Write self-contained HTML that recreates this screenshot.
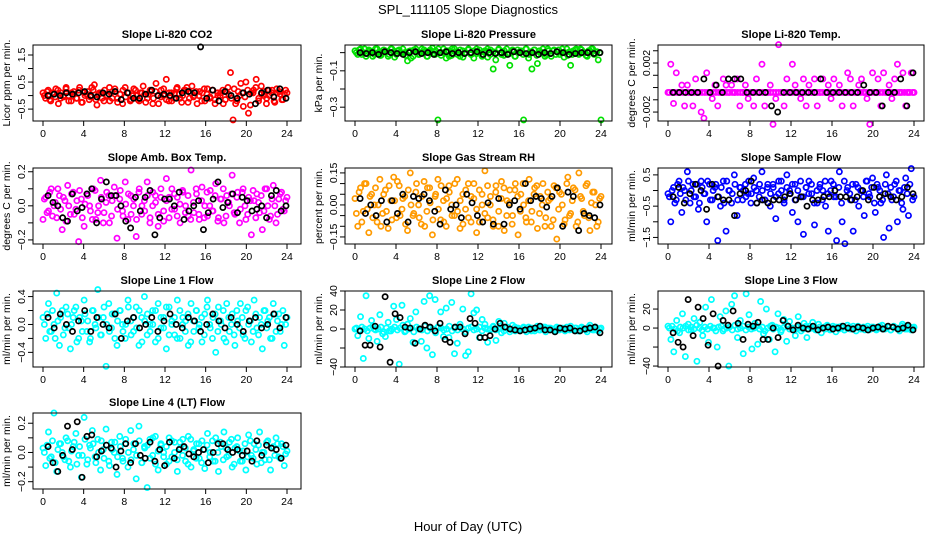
<!DOCTYPE html>
<html><head><meta charset="utf-8"><style>
html,body{margin:0;padding:0;background:#fff}
svg{display:block}
text{font-family:"Liberation Sans",Arial,sans-serif;fill:#000}
</style></head><body>
<svg id="chart" width="936" height="540" viewBox="0 0 936 540" xmlns="http://www.w3.org/2000/svg">
<text x="468" y="14" text-anchor="middle" font-size="13">SPL_111105  Slope Diagnostics</text>
<text x="468" y="531" text-anchor="middle" font-size="13">Hour of Day (UTC)</text>
</svg>
<script>
const xTicks = [0,4,8,12,16,20,24];
// Li-820 CO2
const co2Main = [0.1,-0.1,0.2,-0.2,0.05,0.25,-0.3,0.1,-0.05,0.3,0.0,-0.2,0.15,-0.1,0.2,-0.25,0.1,0.05,-0.15,0.3,0.4,-0.35,0.1,-0.1,0.2,0.0,-0.2,0.15,0.25,-0.1,0.05,-0.3,0.3,0.1,-0.2,0.0,0.2,-0.15,0.1,0.35,-0.25,0.05,0.15,-0.1,0.45,-0.3,0.2,0.0,0.6,-0.2,0.1,-0.1,0.25,0.05,-0.25,0.2,0.3,-0.1,0.35,0.0,-0.3,0.15,0.1,-0.2,0.25,-0.05,0.2,-0.3,0.1,0.0,0.2,-0.15,0.3,0.85,-0.9,-0.3,0.15,0.45,-0.4,0.5,-0.65,0.1,0.2,0.6,-0.1,0.35,0.0,-0.3,0.2,0.1,-0.2,0.25,0.15,-0.15,0.05,0.1];
const co2Extra = [0.0,0.15,-0.15,0.1,-0.05,0.2,-0.1,0.0,0.25,-0.2,0.1,0.05,-0.1,0.3,-0.25,0.0,0.15,-0.05,0.2,-0.15,0.05,0.1,-0.2,0.0,0.3,-0.1,0.15,-0.25,0.05,0.2,-0.05,0.1,-0.15,0.25,0.0,-0.2,0.1,0.05,-0.1,0.2,-0.3,0.15,0.0,-0.05,0.25,-0.15,0.1,-0.2,0.05,0.3,-0.1,0.0,0.2,-0.25,0.1,-0.05,0.15,0.0,-0.2,0.25,0.05,-0.1,0.2,-0.15,0.0,0.1,-0.3,0.15,0.05,-0.1,0.25,-0.2,0.0,0.1,-0.05,0.2,-0.35,0.1,0.3,-0.2,0.05,0.15,-0.1,0.0,0.2,-0.25,0.1,0.05,-0.15,0.2];
const co2Ref = [0.0,0.05,0.0,0.1,0.05,0.1,0.15,0.0,-0.05,0.1,0.05,0.15,-0.15,0.1,-0.1,-0.1,0.05,0.2,0.0,0.05,0.0,-0.1,0.1,0.15,0.1,1.8,-0.1,0.2,-0.2,0.15,0.0,-0.1,0.1,0.05,-0.3,0.1,0.2,-0.05,0.25,-0.1];
// Li-820 Pressure
const presMain = [0.01,-0.01,0.02,0.0,-0.02,0.015,0.005,-0.01,0.02,-0.015,0.0,0.01,-0.02,0.02,0.005,-0.01,0.015,-0.005,0.0,-0.045,0.01,-0.02,0.02,-0.01,0.0,0.015,-0.02,0.01,0.025,-0.01,-0.37,0.0,0.02,-0.03,0.01,-0.015,0.02,0.005,-0.02,0.01,0.0,0.015,-0.01,-0.03,0.02,0.0,-0.015,0.01,-0.025,0.015,-0.09,0.0,0.02,-0.01,0.01,-0.005,-0.07,0.015,-0.02,0.0,0.01,-0.37,0.02,-0.01,-0.09,0.015,-0.06,0.0,0.02,-0.01,0.01,-0.02,0.015,0.005,-0.01,0.02,0.0,-0.015,-0.07,0.01,0.02,-0.01,0.015,0.0,-0.02,0.01,0.02,-0.005,-0.04,-0.37];
const presExtra = [0.0,0.015,-0.01,0.02,-0.005,0.01,-0.02,0.02,0.0,-0.015,0.015,0.005,-0.01,0.02,-0.025,0.01,0.0,0.02,-0.015,0.005,-0.03,0.015,0.0,-0.01,0.02,0.005,-0.02,0.015,-0.005,0.01,0.02,-0.015,0.0,0.01,-0.02,0.02,0.005,-0.01,0.015,-0.025,0.0,0.02,-0.01,0.01,-0.005,0.015,-0.02,0.0,0.02,-0.01,0.005,-0.04,0.015,0.0,-0.015,0.02,-0.005,0.01,-0.02,0.015,0.0,-0.01,0.02,-0.03,0.005,0.015,-0.015,0.01,0.0,-0.02,0.02,-0.005,0.01,-0.01,0.015,0.0,-0.025,0.02,0.005,-0.01,0.015,-0.005,0.02,0.0,-0.015,0.01,0.02,-0.01,0.005,0.0];
const presRef = [0.0,-0.005,0.0,-0.01,0.005,0.0,-0.005,-0.01,0.0,0.005,-0.005,0.0,-0.01,0.0,0.005,-0.005,0.0,-0.005,0.0,0.005,-0.01,0.0,-0.005,0.0,-0.01,0.005,0.0,-0.005,0.0,-0.01,0.0,-0.005,0.005,0.0,-0.01,-0.005,0.0,0.0,-0.005,0.0];
// Li-820 Temp
const tempMain = [-0.0004,0.0019,-0.0013,0.0012,-0.0004,0.0002,-0.0015,0.0002,-0.0004,-0.0015,0.0007,-0.0004,-0.0020,-0.0025,0.0012,-0.0004,-0.0009,0.0002,-0.0015,-0.0004,0.0007,0.0002,-0.0004,0.0002,-0.0004,0.0007,-0.0015,-0.0004,0.0002,-0.0009,-0.0004,-0.0015,0.0007,-0.0004,0.0019,-0.0015,-0.0004,0.0002,-0.0030,-0.0009,0.0035,-0.0004,-0.0015,0.0007,-0.0004,0.0019,0.0002,-0.0004,-0.0009,0.0007,-0.0015,0.0002,-0.0004,0.0007,-0.0015,-0.0004,0.0007,-0.0004,0.0002,-0.0009,0.0007,-0.0004,0.0002,-0.0015,-0.0004,0.0012,0.0007,-0.0015,-0.0004,0.0002,0.0007,-0.0004,-0.0009,-0.0030,0.0012,-0.0004,0.0007,-0.0015,0.0012,-0.0004,0.0002,-0.0009,0.0007,0.0019,-0.0004,0.0012,-0.0015,-0.0004,0.0012,-0.0004];
const tempExtra = [-0.0004,-0.0004,-0.0004,-0.0004,-0.0004,-0.0004,-0.0004,-0.0004,-0.0004,-0.0004,-0.0004,-0.0004,-0.0004,-0.0004,-0.0004,-0.0004,-0.0004,-0.0004,-0.0004,-0.0004,-0.0004,-0.0004,-0.0004,-0.0004,-0.0004,-0.0004,-0.0004,-0.0004,-0.0004,-0.0004,-0.0004,-0.0004,-0.0004,-0.0004,-0.0004,-0.0004,-0.0004,-0.0004,-0.0004,-0.0004,-0.0004,-0.0004,-0.0004,-0.0004,-0.0004,-0.0004,-0.0004,-0.0004,-0.0004,-0.0004,-0.0004,-0.0004,-0.0004,-0.0004,-0.0004,-0.0004,-0.0004,-0.0004,-0.0004,-0.0004,-0.0004,-0.0004,-0.0004,-0.0004,-0.0004,-0.0004,-0.0004,-0.0004,-0.0004,-0.0004,-0.0004,-0.0004,-0.0004,-0.0004,-0.0004,-0.0004,-0.0004,-0.0004,-0.0004,-0.0004,-0.0004,-0.0004,-0.0004,-0.0004,-0.0004,-0.0004,-0.0004,-0.0004,-0.0004,-0.0004];
const tempRef = [-0.0004,-0.0004,-0.0004,-0.0004,-0.0004,0.0007,-0.0004,0.0002,-0.0004,0.0007,0.0007,0.0007,-0.0004,-0.0004,-0.0004,-0.0004,-0.0015,-0.0020,-0.0004,-0.0004,-0.0004,-0.0004,-0.0004,-0.0004,0.0007,-0.0004,-0.0004,-0.0004,-0.0004,-0.0004,-0.0004,0.0002,-0.0004,-0.0004,-0.0015,-0.0004,-0.0004,0.0007,-0.0015,0.0012];
// Amb Box Temp
const ambMain = [-0.08,0.05,-0.03,0.1,0.0,-0.07,0.06,-0.14,0.03,0.12,-0.05,0.08,-0.02,-0.21,0.04,-0.12,0.07,0.0,-0.08,0.09,-0.04,0.15,-0.1,0.02,0.06,-0.06,0.11,-0.19,0.04,-0.03,0.14,-0.08,0.06,0.0,-0.18,0.08,-0.05,0.03,0.14,-0.1,0.0,0.06,-0.12,0.05,-0.03,0.16,-0.07,0.1,-0.02,0.05,-0.1,0.08,0.0,-0.06,0.21,-0.04,0.07,-0.08,0.11,0.0,-0.06,0.09,-0.03,0.13,-0.07,0.04,-0.1,0.06,0.0,0.18,-0.05,0.08,-0.02,0.1,-0.08,0.05,-0.17,0.03,0.07,-0.04,-0.14,0.1,0.0,-0.06,0.12,-0.1,0.04,0.08,-0.03,0.05];
const ambExtra = [0.04,-0.04,0.08,-0.06,0.02,0.1,-0.02,0.05,-0.09,0.0,0.07,-0.05,0.03,0.09,-0.07,0.01,0.06,-0.03,0.1,-0.08,0.0,0.05,-0.04,0.08,-0.1,0.03,0.06,-0.02,0.09,-0.06,0.01,0.07,-0.05,0.04,-0.08,0.1,0.0,-0.03,0.06,-0.07,0.08,0.02,-0.05,0.1,-0.09,0.03,0.05,-0.02,0.07,-0.06,0.01,0.09,-0.04,0.06,-0.08,0.02,0.1,-0.05,0.03,-0.07,0.08,0.0,-0.03,0.06,-0.09,0.04,0.1,-0.06,0.02,0.07,-0.04,0.05,-0.1,0.08,0.0,-0.05,0.03,0.09,-0.07,0.02,0.06,-0.03,0.1,-0.08,0.04,0.0,-0.05,0.07,-0.02,0.03];
const ambRef = [0.06,0.02,0.0,-0.07,-0.09,0.07,-0.03,-0.01,0.07,0.1,-0.1,0.04,0.14,0.06,0.06,0.0,-0.09,-0.13,0.05,-0.03,0.05,0.09,-0.17,-0.07,0.04,0.04,0.0,0.08,-0.08,-0.03,0.0,0.03,-0.14,-0.04,0.04,0.14,-0.01,0.02,0.07,-0.04,0.05,0.03,-0.03,-0.02,0.0,-0.07,0.06,0.09,-0.03,0.0];
// Gas Stream RH
const rhMain = [0.03,-0.1,0.08,-0.03,0.1,-0.13,0.05,0.0,-0.08,0.12,-0.04,0.07,-0.11,0.02,0.13,-0.06,0.09,-0.02,0.04,-0.12,0.15,-0.05,0.06,0.0,-0.09,0.11,-0.03,0.08,-0.14,0.04,0.12,-0.07,0.02,-0.1,0.09,0.0,-0.05,0.12,-0.11,0.05,-0.02,0.1,-0.08,0.03,-0.13,0.07,0.0,0.16,-0.06,0.04,-0.1,0.09,-0.03,0.11,-0.12,0.02,0.07,-0.05,0.1,-0.14,0.05,0.0,-0.08,0.12,-0.03,0.08,-0.11,0.04,0.1,-0.06,0.02,-0.1,0.09,-0.16,0.06,0.0,-0.07,0.13,-0.04,0.08,-0.1,0.15,0.03,-0.05,0.1,-0.12,0.06,0.0,-0.08,0.04];
const rhExtra = [-0.04,0.06,-0.08,0.1,-0.02,0.04,-0.06,0.08,0.0,-0.1,0.05,-0.03,0.09,-0.07,0.02,0.11,-0.05,0.03,-0.09,0.07,0.0,-0.04,0.1,-0.06,0.04,-0.1,0.08,0.01,-0.07,0.05,-0.02,0.09,-0.08,0.03,0.06,-0.05,0.1,-0.03,0.02,-0.09,0.07,-0.06,0.04,0.1,-0.02,-0.08,0.05,-0.04,0.09,0.0,-0.07,0.06,-0.1,0.03,0.08,-0.05,0.01,-0.09,0.07,0.04,-0.03,0.1,-0.06,0.02,-0.08,0.05,0.09,-0.04,0.0,-0.1,0.06,0.03,-0.07,0.08,-0.02,0.05,-0.09,0.1,-0.05,0.02,0.07,-0.08,0.04,-0.03,0.09,-0.06,0.01,0.06,-0.1,0.03];
const rhRef = [0.03,-0.04,0.0,-0.05,0.02,-0.08,0.02,-0.04,0.05,-0.08,0.04,0.03,0.05,0.02,-0.03,-0.09,0.07,-0.02,0.0,-0.06,0.05,0.01,-0.05,-0.08,0.01,-0.09,0.03,-0.09,0.0,0.02,-0.02,0.1,0.02,0.04,0.03,-0.01,0.04,0.08,-0.1,0.06,0.04,-0.12,-0.04,-0.05,-0.06,0.0];
// Sample Flow
const sfMain = [-0.1,-1.0,0.1,-0.3,0.3,-0.7,0.0,0.6,-0.4,0.2,-0.2,-0.6,0.3,-0.1,-1.0,0.2,-0.3,0.1,-1.6,-0.5,0.3,-1.3,0.0,-0.4,0.5,-0.8,0.1,-0.3,0.2,-0.1,-0.4,0.4,0.0,-0.2,0.6,-0.3,0.1,-0.5,0.2,-0.9,-0.1,0.3,-0.3,0.5,0.0,-0.7,0.2,-1.0,-0.2,-1.4,0.1,0.3,-0.1,-1.1,-0.4,0.2,0.0,-0.5,-1.3,0.3,-0.2,-1.6,0.6,-1.0,-1.7,0.1,-0.3,-1.3,0.2,-0.5,0.0,-0.8,0.3,-0.2,0.4,-0.7,0.1,-0.4,-1.5,0.5,-1.2,-0.3,0.2,-1.0,0.0,-0.6,0.4,-0.8,0.7,-0.2];
const sfExtra = [-0.2,0.0,-0.4,0.2,-0.1,0.1,-0.3,0.3,0.0,-0.2,0.2,-0.4,0.1,-0.1,0.3,-0.3,0.0,0.2,-0.2,0.1,-0.4,0.3,0.0,-0.1,0.2,-0.3,0.1,0.0,-0.2,0.3,-0.1,0.1,-0.4,0.2,0.0,-0.3,0.2,-0.1,0.1,-0.2,0.3,0.0,-0.4,0.1,-0.1,0.2,-0.3,0.0,0.3,-0.2,0.1,-0.1,0.2,-0.4,0.0,0.1,-0.3,0.3,-0.1,0.0,0.2,-0.2,0.1,-0.4,0.3,0.0,-0.1,0.2,-0.3,0.1,0.0,-0.2,0.3,-0.1,0.1,-0.4,0.2,0.0,-0.3,0.2,-0.1,0.1,-0.2,0.3,0.0,-0.4,0.1,-0.1,0.2,-0.3];
const sfRef = [-0.2,0.1,-0.4,-0.1,0.2,0.0,-0.6,0.2,-0.2,-0.3,-0.3,-0.8,-0.1,0.0,0.3,-0.4,-0.3,-0.4,-0.3,-0.3,-0.2,-0.1,-0.3,-0.2,-0.5,-0.3,-0.3,-0.2,-0.2,0.0,-0.2,-0.2,-0.3,-0.2,0.0,-0.3,0.1,-0.2,-0.1,-0.2,-0.3,-0.2,0.1,-0.1];
// Line 1 Flow
const l1Main = [0.1,-0.2,0.3,-0.1,0.0,0.45,-0.3,0.2,-0.05,0.15,-0.35,0.1,0.25,-0.2,0.05,0.35,-0.1,-0.25,0.2,0.0,0.5,-0.15,0.1,-0.6,0.3,-0.05,0.15,-0.3,0.2,0.0,-0.2,0.35,0.05,-0.1,0.25,-0.3,0.1,0.4,-0.15,0.0,0.2,-0.25,0.3,-0.05,0.1,-0.35,0.25,0.0,-0.15,0.35,-0.2,0.1,0.05,-0.3,0.3,-0.1,0.2,0.0,-0.25,0.15,0.35,-0.05,0.1,-0.4,0.25,0.0,-0.2,0.3,-0.1,0.15,-0.3,0.05,0.3,-0.15,0.2,0.0,-0.25,0.35,-0.05,0.1,-0.35,0.2,0.05,-0.2,0.3,-0.1,0.15,0.0,-0.3,0.1];
const l1Extra = [0.0,0.15,-0.1,0.2,-0.2,0.05,0.1,-0.15,0.25,-0.05,0.0,0.2,-0.25,0.1,-0.1,0.15,0.05,-0.2,0.2,-0.05,0.1,-0.15,0.25,0.0,-0.1,0.15,-0.2,0.05,0.2,-0.1,0.0,0.25,-0.15,0.1,-0.05,0.2,-0.25,0.05,0.15,-0.1,0.0,0.2,-0.2,0.1,-0.05,0.25,-0.15,0.05,0.1,-0.2,0.2,0.0,-0.1,0.15,-0.25,0.05,0.2,-0.05,0.1,-0.15,0.25,0.0,-0.2,0.15,-0.1,0.05,0.2,-0.25,0.1,0.0,-0.15,0.2,-0.05,0.1,-0.2,0.25,0.05,-0.1,0.15,-0.15,0.0,0.2,-0.05,0.1,-0.2,0.15,0.05,-0.1,0.2,0.0];
const l1Ref = [0.1,-0.05,0.15,0.0,-0.1,0.05,0.2,-0.1,0.1,0.0,-0.05,0.15,-0.2,0.05,0.1,-0.05,0.0,0.1,-0.1,0.05,0.15,0.0,-0.05,0.1,0.05,-0.1,0.0,0.15,0.05,-0.05,0.1,0.0,-0.1,0.05,0.1,-0.05,0.0,0.15,-0.05,0.1];
// Line 2 Flow
const l2Main = [0,-7,13,-31,35,-10,9,0,-13,15,-5,-8,7,-2,24,10,-37,25,-3,5,11,-14,18,0,-13,29,-20,35,-27,31,2,18,-8,22,-9,28,-26,-15,5,21,-28,-24,37,17,20,-9,10,5,-14,0,3,-12,8,-4,6,2,-3,4,-2,1,-1,2,-3,0,1,-2,3,-1,2,-3,1,0,-2,2,-1,1,-2,0,3,-1,1,-2,2,0,-3,4,-1,2,-2,1];
const l2Extra = [1,-1,2,0,-2,1,3,-1,0,2,-3,1,-2,0,2,-1,1,4,-2,0,1,-3,2,0,-1,3,-2,1,0,-4,2,1,-1,0,3,-2,1,-1,2,0,-3,1,2,-1,0,2,-2,1,0,-1,2,-1,0,1,-2,1,0,-1,2,-1,0,1,-1,2,-2,0,1,-1,0,2,-1,1,0,-2,1,0,-1,2,-1,0,1,-2,1,0,-1,2,0,-1,1,0];
const l2Ref = [-2,-17,-17,3,-19,34,-35,16,12,2,1,-15,0,4,2,-2,6,-11,-14,2,2,-5,11,6,-9,-9,-7,0,6,2,0,-1,-2,-1,0,1,3,-1,-1,-3,1,0,1,-2,-2,0,1,2,-4];
// Line 3 Flow
const l3Main = [2,-12,-25,8,-5,15,-30,4,-2,10,-35,6,-8,22,-15,30,0,-20,12,-3,18,-40,25,34,-10,8,-27,36,14,-22,5,-17,28,-6,20,-12,3,-25,15,-4,9,-14,7,0,-8,12,-3,5,-10,2,6,-2,4,-5,1,3,-2,2,-4,1,0,-2,3,-1,2,-3,1,0,-2,2,-1,1,-2,0,3,-1,1,-2,2,0,-3,4,-1,2,-2,1];
const l3Extra = [0,2,-1,-3,1,0,2,-2,1,-1,3,0,-2,1,-1,2,0,-3,1,2,-1,0,1,-2,3,-1,0,2,-2,1,-1,0,2,-1,1,-3,0,2,-1,1,0,-2,1,3,-1,0,-2,1,0,-1,2,-1,0,1,-2,1,0,-1,2,-1,0,1,-1,2,-2,0,1,-1,0,2,-1,1,0,-2,1,0,-1,2,-1,0,1,-2,1,0,-1,2,0,-1,1,0];
const l3Ref = [-5,-15,-20,30,-8,22,10,-18,15,-40,8,3,18,5,-12,4,2,6,-12,-12,0,-10,8,2,-2,3,0,-1,2,-2,0,1,-1,0,2,0,-1,1,0,-2,0,1,-1,2,1,-1,0,3,-2];
// Line 4 (LT) Flow
const l4Main = [0.03,-0.09,0.14,-0.03,0.27,-0.13,0.06,0.0,-0.05,0.08,-0.1,0.04,0.13,-0.02,-0.17,0.24,-0.08,0.05,0.15,-0.03,0.09,-0.12,0.02,0.16,-0.06,0.07,0.0,-0.15,0.11,-0.04,0.06,-0.1,0.15,0.02,-0.18,0.18,-0.07,0.04,-0.24,0.09,-0.02,0.11,-0.12,0.05,0.0,-0.08,0.1,-0.03,0.07,-0.13,0.03,0.09,-0.06,0.11,-0.1,0.02,0.06,-0.04,0.08,-0.11,0.13,0.0,-0.06,0.1,-0.13,0.04,0.14,-0.03,0.07,-0.1,0.03,0.1,-0.06,0.01,-0.12,0.12,-0.02,0.06,-0.08,0.14,0.0,-0.05,0.08,-0.12,0.04,0.1,-0.03,0.06,-0.09,0.01];
const l4Extra = [0.0,0.05,-0.04,0.08,-0.07,0.02,0.06,-0.03,0.1,-0.06,0.01,0.07,-0.08,0.04,-0.02,0.09,-0.05,0.03,0.06,-0.07,0.0,0.08,-0.04,0.05,-0.09,0.02,0.07,-0.03,0.04,-0.06,0.09,0.0,-0.05,0.06,-0.02,0.08,-0.07,0.03,0.05,-0.04,0.1,-0.08,0.01,0.06,-0.03,0.04,-0.06,0.08,0.0,-0.05,0.07,-0.02,0.03,-0.08,0.09,0.01,-0.04,0.06,-0.07,0.02,0.05,-0.03,0.08,-0.06,0.0,0.07,-0.05,0.03,-0.02,0.09,-0.08,0.04,0.01,-0.06,0.06,-0.03,0.08,-0.04,0.02,0.05,-0.07,0.0,0.07,-0.05,0.03,-0.02,0.06,-0.04,0.04,-0.01];
const l4Ref = [0.04,-0.07,-0.13,-0.02,0.18,0.02,0.21,-0.17,0.11,0.12,-0.03,0.01,0.05,0.03,-0.1,0.01,0.06,-0.07,0.06,-0.02,-0.04,0.07,-0.06,0.02,-0.09,0.07,-0.04,0.02,0.04,-0.01,-0.03,0.0,0.02,-0.07,0.0,0.06,0.06,0.02,0.0,0.02,-0.02,0.01,-0.06,0.08,-0.02,0.05,0.03,0.02,-0.04,0.05];

const NS='http://www.w3.org/2000/svg';
const svg=document.getElementById('chart');
function el(tag,attrs,parent){const e=document.createElementNS(NS,tag);for(const k in attrs)e.setAttribute(k,attrs[k]);(parent||svg).appendChild(e);return e;}

const cols=[{l:33,r:301,x0:43,x24:287},{l:345,r:612,x0:355,x24:601},{l:658,r:924,x0:668,x24:914}];
const rows=[{t:45,b:121},{t:168,b:244},{t:291,b:367},{t:413,b:489}];
const panels=[
 {key:'co2',title:'Slope Li-820 CO2',yl:'Licor ppm per min.',c:0,r:0,dom:[-0.94,1.87],ticks:[-0.5,0,0.5,1,1.5],labels:[-0.5,0.5,1.5],fmt:v=>v.toFixed(1).replace('-','\u2212'),main:co2Main,extra:co2Extra,ref:co2Ref,col:'#ff0000'},
 {key:'pressure',title:'Slope Li-820 Pressure',yl:'kPa per min.',c:1,r:0,dom:[-0.376,0.042],ticks:[0,-0.1,-0.2,-0.3],labels:[-0.1,-0.3],fmt:v=>v.toFixed(1).replace('-','\u2212'),main:presMain,extra:presExtra,ref:presRef,col:'#00e000'},
 {key:'temp',title:'Slope Li-820 Temp.',yl:'degrees C per min.',c:2,r:0,dom:[-0.00273,0.00347],ticks:[0.003,0.002,0.001,0,-0.001,-0.002],labels:[0.002,-0.002],fmt:v=>v.toFixed(3).replace('-','\u2212'),main:tempMain,extra:tempExtra,ref:tempRef,col:'#ff00ff'},
 {key:'amb',title:'Slope Amb. Box Temp.',yl:'degrees C per min.',c:0,r:1,dom:[-0.224,0.222],ticks:[-0.2,-0.1,0,0.1,0.2],labels:[-0.2,0,0.2],fmt:v=>v.toFixed(1).replace('-','\u2212'),main:ambMain,extra:ambExtra,ref:ambRef,col:'#ff00ff'},
 {key:'rh',title:'Slope Gas Stream RH',yl:'percent per min.',c:1,r:1,dom:[-0.183,0.173],ticks:[-0.15,-0.1,-0.05,0,0.05,0.1,0.15],labels:[-0.15,0,0.15],fmt:v=>v.toFixed(2).replace('-','\u2212'),main:rhMain,extra:rhExtra,ref:rhRef,col:'#ff9a00'},
 {key:'sampleflow',title:'Slope Sample Flow',yl:'ml/min per min.',c:2,r:1,dom:[-1.71,0.72],ticks:[-1.5,-1,-0.5,0,0.5],labels:[-1.5,-0.5,0.5],fmt:v=>v.toFixed(1).replace('-','\u2212'),main:sfMain,extra:sfExtra,ref:sfRef,col:'#0000ff'},
 {key:'line1',title:'Slope Line 1 Flow',yl:'ml/min per min.',c:0,r:2,dom:[-0.61,0.48],ticks:[-0.4,-0.2,0,0.2,0.4],labels:[-0.4,0,0.4],fmt:v=>v.toFixed(1).replace('-','\u2212'),main:l1Main,extra:l1Extra,ref:l1Ref,col:'#00ffff'},
 {key:'line2',title:'Slope Line 2 Flow',yl:'ml/min per min.',c:1,r:2,dom:[-40,40],ticks:[-40,-20,0,20,40],labels:[-40,0,20,40],fmt:v=>String(v).replace('-','\u2212'),main:l2Main,extra:l2Extra,ref:l2Ref,col:'#00ffff'},
 {key:'line3',title:'Slope Line 3 Flow',yl:'ml/min per min.',c:2,r:2,dom:[-41,39],ticks:[-40,-20,0,20],labels:[-40,0,20],fmt:v=>String(v).replace('-','\u2212'),main:l3Main,extra:l3Extra,ref:l3Ref,col:'#00ffff'},
 {key:'line4',title:'Slope Line 4 (LT) Flow',yl:'ml/min per min.',c:0,r:3,dom:[-0.25,0.27],ticks:[-0.2,-0.1,0,0.1,0.2],labels:[-0.2,0,0.2],fmt:v=>v.toFixed(1).replace('-','\u2212'),main:l4Main,extra:l4Extra,ref:l4Ref,col:'#00ffff'}
];

panels.forEach(p=>{
  const C=cols[p.c],R=rows[p.r];
  const g=el('g',{});
  
  
  const xs=h=>C.x0+(C.x24-C.x0)*h/24;
  const ys=v=>R.b-(v-p.dom[0])/(p.dom[1]-p.dom[0])*(R.b-R.t);
  const cx=(C.l+C.r)/2;
  const t=el('text',{x:cx,y:R.t-7,'text-anchor':'middle','font-size':'11','font-weight':'bold'},g);
  t.textContent=p.title;
  
  
  const yl=el('text',{x:0,y:0,'text-anchor':'middle','font-size':'10.5',transform:`translate(${C.l-23},${(R.t+R.b)/2}) rotate(-90)`},g);
  yl.textContent=p.yl;
  
  
  const pts=el('g',{fill:'none','stroke-width':'1.7'},g);
  
  
  const n2=p.extra.length;
  p.extra.forEach((v,i)=>{
    const c=el('circle',{cx:xs((i+0.5)*24/n2),cy:ys(v),r:2.6,stroke:p.col},pts);
    
    
  });
  const n=p.main.length;
  p.main.forEach((v,i)=>{
    const c=el('circle',{cx:xs(i*24/(n-1)),cy:ys(v),r:2.6,stroke:p.col},pts);
    
    
  });
  const m=p.ref.length;
  p.ref.forEach((v,i)=>{
    const c=el('circle',{cx:xs(0.5+i*23.4/(m-1)),cy:ys(v),r:2.6,stroke:'#000'},pts);
    
    
  });
  const box=el('rect',{x:C.l,y:R.t,width:C.r-C.l,height:R.b-R.t,fill:'none',stroke:'#000','stroke-width':'1'},g);
  
  
  xTicks.forEach(h=>{
    el('line',{x1:xs(h),x2:xs(h),y1:R.b,y2:R.b+5,stroke:'#000'},g);
    const tl=el('text',{x:xs(h),y:R.b+16,'text-anchor':'middle','font-size':'10.5'},g);
    tl.textContent=h;
    
    
  });
  p.ticks.forEach(v=>{
    el('line',{x1:C.l-5,x2:C.l,y1:ys(v),y2:ys(v),stroke:'#000'},g);
  });
  p.labels.forEach(v=>{
    const tl=el('text',{x:0,y:0,'text-anchor':'middle','font-size':'10.5',transform:`translate(${C.l-8},${ys(v)}) rotate(-90)`},g);
    tl.textContent=p.fmt(v);
    
    
  });
});
</script>
</body></html>
